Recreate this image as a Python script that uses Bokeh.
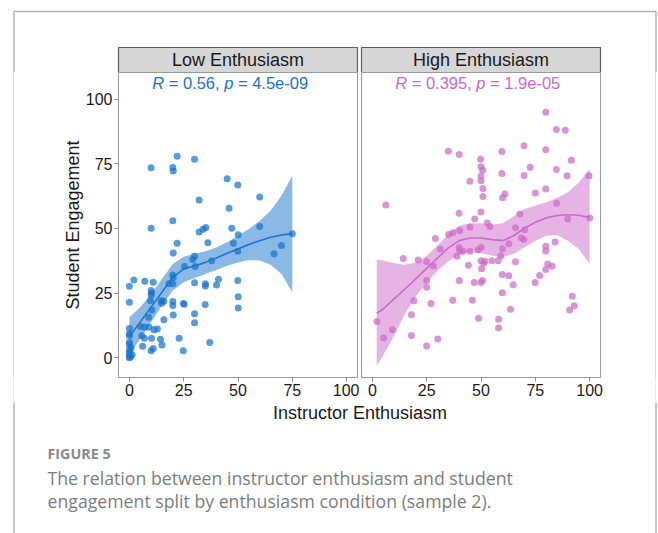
from bokeh.plotting import figure
from bokeh.layouts import column, row
from bokeh.models import Range1d, Label
from bokeh.embed import file_html
from bokeh.resources import INLINE
from bokeh.core.properties import value

# ---------------- data ----------------
panels = ["Low Enthusiasm", "High Enthusiasm"]
stat_r = ["0.56", "0.395"]
stat_p = ["4.5e-09", "1.9e-05"]
x_ticks = [0, 25, 50, 75, 100]
y_ticks = [0, 25, 50, 75, 100]
x_title = "Instructor Enthusiasm"
y_title = "Student Engagement"
fig_label = "FIGURE 5"
caption_lines = ["The relation between instructor enthusiasm and student",
                 "engagement split by enthusiasm condition (sample 2)."]

low_x = [22.0, 30.0, 10.0, 20.0, 20.2, 45.0, 49.9, 32.1, 60.0, 45.9, 20.0, 10.0, 47.1, 60.0,
         32.1, 33.9, 35.2, 50.1, 36.1, 22.0, 47.9, 20.2, 66.6, 70.0, 75.0, 49.9, 29.2, 30.0,
         25.4, 30.3, 37.9, 20.0, 20.2, 18.2, 30.0, 35.0, 35.0, 40.1, 41.0, 49.9, 50.1, 50.1,
         2.1, 7.1, 11.0, 0.0, 10.0, 10.2, 0.0, 9.7, 14.6, 14.9, 15.9, 20.0, 20.0, 24.9, 25.2,
         34.9, 10.4, 20.2, 15.9, 8.9, 30.0, 30.0, 0.0, 0.0, 0.0, 0.0, 5.1, 7.1, 9.1, 11.3,
         12.9, 5.7, 6.9, 10.2, 14.3, 22.9, 6.1, 11.0, 10.0, 15.0, 37.0, 24.8, 0.0, 0.5, 1.3,
         0.0, 0.0, 0.0, 0.8, 0.0, 10.0, 20.0]
low_y = [77.9, 76.8, 73.5, 73.6, 72.2, 69.2, 66.8, 61.0, 62.2, 57.8, 53.0, 50.1, 50.1, 50.8,
         48.6, 49.7, 50.4, 47.6, 44.5, 44.3, 44.3, 40.5, 40.2, 43.4, 48.0, 41.2, 38.0, 39.3,
         35.3, 35.3, 37.5, 32.0, 31.1, 28.6, 29.0, 28.6, 27.8, 28.2, 30.4, 29.9, 23.6, 19.3,
         30.1, 29.6, 29.2, 27.7, 26.0, 25.1, 21.5, 22.1, 22.1, 21.1, 21.9, 21.8, 20.2, 21.0, 20.7,
         20.6, 18.5, 16.6, 14.7, 15.7, 17.0, 13.6, 11.3, 9.3, 6.0, 5.1, 12.1, 11.8, 11.8, 10.9,
         11.1, 8.5, 7.6, 7.6, 7.2, 7.6, 4.5, 3.6, 2.7, 5.0, 5.9, 2.7, 0.9, 0.3, 1.2,
         0.0, 2.1, 3.1, 3.9, 8.5, 24.3, 28.6]

high_x = [79.8, 84.7, 88.8, 79.8, 35.0, 40.0, 59.6, 69.8, 49.8, 91.6, 50.0, 50.8, 72.6, 84.7,
          59.6, 69.8, 50.0, 89.6, 99.7, 44.9, 50.0, 50.9, 50.9, 61.0, 59.9, 75.0, 79.8, 6.2,
          84.8, 39.9, 50.0, 67.9, 47.1, 52.9, 54.1, 44.9, 40.2, 35.1, 37.0, 65.9, 70.1, 29.0,
          68.6, 69.7, 89.9, 100.1, 62.8, 40.0, 31.2, 40.2, 41.7, 44.9, 48.7, 50.1, 59.9, 38.9,
          59.1, 79.8, 79.8, 84.1, 14.2, 21.1, 25.0, 28.1, 44.2, 50.0, 51.8, 55.0, 57.9, 51.2,
          50.3, 65.9, 80.7, 82.8, 79.8, 77.0, 74.9, 59.8, 62.8, 64.8, 40.0, 46.9, 50.7, 50.0,
          25.0, 25.0, 59.8, 19.1, 27.0, 37.0, 46.0, 92.0, 92.9, 90.8, 63.6, 18.0, 2.1, 9.3,
          5.2, 48.9, 58.1, 58.1, 18.0, 30.1, 25.0]
high_y = [94.9, 88.3, 88.0, 80.4, 79.9, 78.6, 79.8, 82.0, 76.8, 76.4, 73.9, 72.5, 73.7, 72.8,
          71.3, 70.5, 70.3, 70.4, 70.4, 68.3, 68.5, 65.5, 62.4, 63.3, 61.9, 63.7, 65.3, 59.1,
          59.8, 55.9, 56.4, 55.6, 53.7, 52.1, 50.8, 50.5, 49.2, 47.7, 48.4, 50.3, 49.5, 46.1,
          46.3, 45.7, 53.7, 54.1, 44.1, 42.7, 42.1, 41.4, 41.2, 41.2, 41.8, 42.7, 42.2, 39.3,
          39.5, 43.1, 41.3, 44.8, 38.4, 37.8, 37.1, 35.5, 35.8, 37.5, 37.3, 37.5, 37.5, 36.6,
          34.4, 37.1, 36.3, 35.4, 34.1, 31.8, 29.1, 32.2, 31.7, 28.3, 29.9, 29.1, 29.9, 29.1,
          29.9, 27.3, 25.2, 22.1, 21.0, 22.3, 22.3, 23.8, 20.1, 18.5, 18.8, 16.7, 14.0, 10.9,
          7.7, 15.3, 14.9, 11.5, 8.6, 7.3, 4.6]

# smoothed fits
low_fit_x = [0, 5, 10, 15, 20, 25, 30, 35, 40, 45, 50, 55, 60, 65, 70, 75]
low_fit_y = [8.2, 13.8, 19.6, 25.4, 31.1, 34.4, 35.5, 36.9, 38.6, 40.4, 42.1, 43.8, 45.3, 46.6, 47.5, 48.0]
low_fit_hi = [15.7, 19.6, 24.7, 30.5, 36.3, 39.1, 40.2, 41.2, 42.7, 44.7, 47.2, 49.8, 53.0, 56.9, 62.7, 70.4]
low_fit_lo = [1.5, 7.3, 13.8, 20.2, 26.0, 29.2, 30.9, 32.4, 34.0, 35.6, 36.9, 37.8, 37.6, 36.0, 32.4, 25.4]

high_fit_x = [2, 5, 10, 15, 20, 25, 30, 35, 40, 45, 50, 55, 60, 65, 70, 75, 80, 85, 90, 95, 100]
high_fit_y = [17.2, 18.9, 22.8, 26.6, 30.5, 34.6, 38.6, 42.5, 45.3, 46.3, 46.3, 45.7, 45.3, 47.2,
              50.1, 52.4, 54.1, 55.0, 55.3, 55.1, 54.3]
high_fit_hi = [38.0, 37.6, 36.6, 36.0, 36.9, 39.5, 43.4, 47.9, 51.1, 52.0, 52.0, 51.4, 52.0, 54.7,
               57.5, 58.8, 60.1, 61.8, 64.0, 67.8, 73.0]
high_fit_lo = [-3.0, 0.9, 8.6, 17.0, 23.7, 29.2, 33.7, 37.3, 39.9, 40.8, 40.5, 39.5, 38.9, 40.2,
               42.7, 45.3, 47.2, 47.5, 45.3, 42.1, 36.3]

colors = ["#1874CD", "#CD69C9"]

# ---------------- styles / layout ----------------
FONT = "Liberation Sans"
CAP_FONT = "Open Sans"
FRAME_GRAY = "#b3b3b3"
W = 658
TOP_H, MID_H, BOT_H = 72, 330, 131
LP_W, RP_W = 345, 296
L_MB_LEFT, L_MB_RIGHT = 104, 2
R_MB_LEFT, R_MB_RIGHT = 2, 55
XL, XR_LINE = 13.5, 655.5
XR = (-5, 105)
YR = (-7.6, 110.3)


def deco(width, height, fill="white"):
    f = figure(width=width, height=height, x_range=Range1d(0, width), y_range=Range1d(height, 0),
               x_axis_type=None, y_axis_type=None, min_border=0, output_backend="svg",
               toolbar_location=None)
    f.outline_line_color = None
    f.background_fill_color = fill
    f.border_fill_color = fill
    f.grid.visible = False
    return f


CHAR_W = {'R': 0.722, 'p': 0.556, ' ': 0.278, '=': 0.584, '.': 0.278, ',': 0.278,
          'e': 0.556, '-': 0.333}


def panel(width, mbl, mbr, xs, ys, fx, fy, flo, fhi, color, r, pval, show_y):
    f = figure(width=width, height=MID_H, x_range=Range1d(*XR), y_range=Range1d(*YR),
               min_border_left=mbl, min_border_right=mbr, min_border_top=0, min_border_bottom=25,
               output_backend="svg", toolbar_location=None)
    f.grid.visible = False
    f.outline_line_color = "#9a9a9a"
    f.outline_line_width = 1
    f.background_fill_color = "white"
    f.border_fill_color = "white"
    f.scatter(xs, ys, size=7, fill_color=color, line_color=None, fill_alpha=0.72)
    f.varea(x=fx, y1=flo, y2=fhi, fill_color=color, fill_alpha=0.5)
    f.line(fx, fy, line_color=color, line_width=1.6)
    for ax, tk in [(f.xaxis[0], x_ticks), (f.yaxis[0], y_ticks)]:
        ax.ticker = tk
        ax.major_label_text_font = FONT
        ax.major_label_text_font_size = "16px"
        ax.major_label_text_color = "#1a1a1a"
        ax.major_tick_out = 4
        ax.major_tick_in = 0
        ax.minor_tick_line_color = None
        ax.major_tick_line_color = "#8a8a8a"
        ax.axis_line_color = "#9a9a9a"
        ax.major_label_standoff = 2
    if show_y:
        f.yaxis.axis_label = y_title
        f.yaxis.axis_label_text_font = FONT
        f.yaxis.axis_label_text_font_size = "18px"
        f.yaxis.axis_label_text_font_style = "normal"
        f.yaxis.axis_label_text_color = "#1a1a1a"
        f.yaxis.axis_label_standoff = 0
    else:
        f.yaxis.visible = False
    # "R = .., p = .." with italic R and p (spaces handled through offsets)
    fs = 16.5

    def tw(s):
        return sum(CHAR_W.get(c, 0.556) for c in s) * fs
    pieces = [("R", "italic", " "), ("= " + r + ",", "normal", " "), ("p", "italic", " "),
              ("= " + pval, "normal", "")]
    off = 0.0
    for txt, style, trail in pieces:
        f.add_layout(Label(x=10.5, y=106.3, x_offset=off, text=txt, text_font=FONT,
                           text_font_size=f"{fs}px", text_font_style=style, text_color=color,
                           text_baseline="middle", text_align="left"))
        off += tw(txt + trail)
    return f


# top decoration: frame line + facet strips
top = deco(W, TOP_H)
top.segment(x0=[XL, XL, XR_LINE], y0=[11, 11, 11], x1=[XR_LINE, XL, XR_LINE], y1=[11, TOP_H, TOP_H],
            line_color=FRAME_GRAY, line_width=1.5)
SP_L = 14
strip_l = [SP_L + L_MB_LEFT, SP_L + LP_W + R_MB_LEFT]
strip_r = [SP_L + LP_W - L_MB_RIGHT, SP_L + LP_W + RP_W - R_MB_RIGHT]
top.quad(left=strip_l, right=strip_r, top=[47, 47], bottom=[TOP_H, TOP_H],
         fill_color="#d6d6d6", line_color="#5e5e5e", line_width=1.2)
top.text(x=[(a + b) / 2 for a, b in zip(strip_l, strip_r)], y=[59.5, 59.5], text=panels,
         text_font=value(FONT), text_font_size="18px", text_color="#1a1a1a",
         text_align="center", text_baseline="middle")

# middle: panels, with thin frame strips on both sides
gap_l = deco(13, MID_H)
line_l = deco(1, MID_H, fill=FRAME_GRAY)
line_r = deco(1, MID_H, fill=FRAME_GRAY)
gap_r = deco(2, MID_H)

p_low = panel(LP_W, L_MB_LEFT, L_MB_RIGHT, low_x, low_y, low_fit_x, low_fit_y, low_fit_lo,
              low_fit_hi, colors[0], stat_r[0], stat_p[0], True)
p_high = panel(RP_W, R_MB_LEFT, R_MB_RIGHT, high_x, high_y, high_fit_x, high_fit_y, high_fit_lo,
               high_fit_hi, colors[1], stat_r[1], stat_p[1], False)

# bottom: shared x title + caption
bot = deco(W, BOT_H)
bot.segment(x0=[XL, XR_LINE], y0=[0, 0], x1=[XL, XR_LINE], y1=[BOT_H, BOT_H],
            line_color=FRAME_GRAY, line_width=1.5)
bot.text(x=[(strip_l[0] + strip_r[1]) / 2 + 0.5], y=[10], text=[x_title], text_font=value(FONT),
         text_font_size="18px", text_color="#1a1a1a", text_align="center", text_baseline="middle")
bot.text(x=[47], y=[51], text=[fig_label], text_font=value(CAP_FONT), text_font_size="14.3px",
         text_font_style="bold", text_color="#8a8a8a", text_align="left", text_baseline="middle")
bot.text(x=[47, 47], y=[75, 98], text=caption_lines, text_font=value(CAP_FONT),
         text_font_size="17.7px", text_color="#7d7d7d", text_align="left", text_baseline="middle")

layout = column(top, row(gap_l, line_l, p_low, p_high, line_r, gap_r, spacing=0), bot, spacing=0)
open("out.html", "w").write(file_html(layout, INLINE))
